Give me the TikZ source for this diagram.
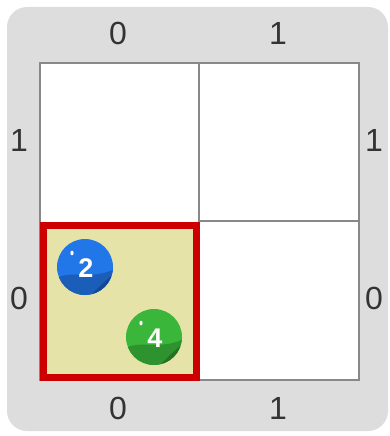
\documentclass[tikz,border=0pt]{standalone}
\usepackage{fontspec}
\setmainfont{Liberation Sans}
\definecolor{boardgray}{RGB}{221,221,221}
\definecolor{gridgray}{RGB}{136,136,136}
\definecolor{labelgray}{RGB}{51,51,51}
\definecolor{pickred}{RGB}{204,0,0}
\definecolor{pickfill}{RGB}{230,227,169}
\definecolor{ballblue}{RGB}{33,118,232}
\definecolor{ballgreen}{RGB}{58,182,58}
\usetikzlibrary{positioning}

\begin{document}
\begin{tikzpicture}[
          x=1pt, y=-1pt,
          board/.style={
              fill=boardgray,
              rounded corners=20pt
            },
          gridline/.style={
              draw=gridgray,
              line width=2.2pt
            },
          picked/.style={
              draw=pickred,
              fill=pickfill,
              line width=7pt
            },
          axislabel/.style={
              font=\fontsize{32}{32}\selectfont,
              text=labelgray,
              inner sep=0pt
            },
          ball/.style={
              circle,
              minimum size=56pt,
              inner sep=0pt,
              font=\bfseries\fontsize{27}{27}\selectfont,
              text=white
            }
        ]
        \useasboundingbox (0,0) rectangle (390,436);
        \fill[board] (7,7) rectangle (388,431);

        % cells
        \fill[white] (40,63) rectangle (359,380);
        \fill[picked] (43,225) rectangle (196,377);
        \draw[gridline] (40,63) rectangle (359,380);
        \draw[gridline] (199,63) -- (199,221);
        \draw[gridline] (199,221) -- (359,221);
        \draw[gridline] (199,380) -- (199,221);
        \draw[picked, fill=none] (43,225) rectangle (196,377);

        % axis labels
        \node[axislabel] (top0) at (118,33) {0};
        \node[axislabel] (top1) at (278,33) {1};
        \node[axislabel] (bot0) at (118,408) {0};
        \node[axislabel] (bot1) at (278,408) {1};
        \node[axislabel] (left1) at (19,140) {1};
        \node[axislabel] (left0) at (19,298) {0};
        \node[axislabel] (right1) at (374,140) {1};
        \node[axislabel] (right0) at (374,298) {0};

        % balls
        \foreach \bx/\by/\num/\col in {85/267/2/ballblue, 154/337/4/ballgreen} {
            \fill[\col] (\bx,\by) circle (28);
            \begin{scope}
              \clip (\bx,\by) circle (28);
              \fill[\col!80!black] (\bx-30,\by+12) .. controls (\bx-14,\by+2) and (\bx+4,\by+14) .. (\bx+30,\by+2)
                -- (\bx+30,\by+30) -- (\bx-30,\by+30) -- cycle;
              \fill[\col!62!black] (\bx+4,\by+30) .. controls (\bx+14,\by+20) and (\bx+22,\by+12) .. (\bx+30,\by+6)
                -- (\bx+30,\by+30) -- cycle;
            \end{scope}
            \fill[white] (\bx-13,\by-14) ellipse (1.6 and 2.4);
            \node[ball] (ball\num) at (\bx+1,\by+1) {\num};
        }
      \end{tikzpicture}
\end{document}
